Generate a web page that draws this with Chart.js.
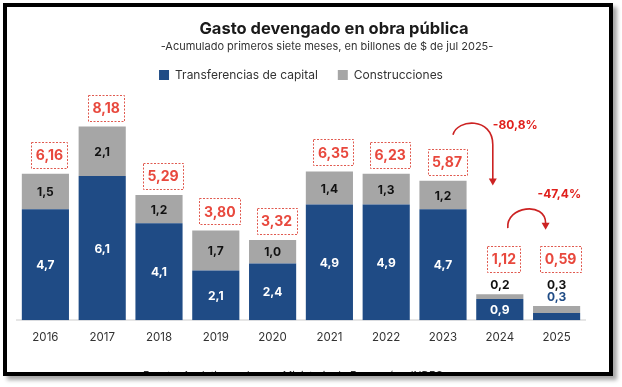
<!DOCTYPE html>
<html>
<head>
<meta charset="utf-8">
<title>Gasto devengado en obra pública</title>
<script src="https://cdn.jsdelivr.net/npm/chart.js@4.4.0/dist/chart.umd.min.js"></script>
<style>
    html, body { margin: 0; padding: 0; background: #fff; }
    .frame {
        position: absolute;
        left: 3px;
        top: 3px;
        width: 602px;
        height: 365px;
        border: 4px solid #000;
        box-shadow: 4px 4px 4px rgba(0, 0, 0, 0.35);
        background: #fff;
        overflow: hidden;
    }
    canvas { display: block; }
</style>
</head>
<body>
<div class="frame">
    <canvas id="obraChart" width="602" height="365"></canvas>
</div>
<script>
// Data (billones de $ de jul 2025, first seven months)
const years = ['2016', '2017', '2018', '2019', '2020', '2021', '2022', '2023', '2024', '2025'];
const transferencias = [4.7, 6.1, 4.1, 2.1, 2.4, 4.9, 4.9, 4.7, 0.9, 0.3];
const construcciones = [1.5, 2.1, 1.2, 1.7, 1.0, 1.4, 1.3, 1.2, 0.2, 0.3];
const totales = [6.16, 8.18, 5.29, 3.80, 3.32, 6.35, 6.23, 5.87, 1.12, 0.59];
const variacionDesde = [7, 8];
const variacionTexto = ['-80,8%', '-47,4%'];

const FONT = "Inter, 'Noto Sans', sans-serif";
const BLUE = '#1f4b85';
const GREY = '#a6a6a6';
const BOX_RED = '#e8483d';
const ARROW_RED = '#cc2222';

Chart.defaults.font.family = FONT;

function fmt(value, decimals) {
    return value.toFixed(decimals).replace('.', ',');
}

/**
 * Title, subtitle and (cut off) source line
 */
const headerPlugin = {
    id: 'header',
    afterDraw(chart) {
        const ctx = chart.ctx;
        ctx.save();
        ctx.textAlign = 'center';
        ctx.textBaseline = 'middle';
        ctx.fillStyle = '#1a1a1a';
        ctx.font = 'bold 16.5px ' + FONT;
        ctx.fillText('Gasto devengado en obra pública', 327, 22);
        ctx.fillStyle = '#333';
        ctx.font = '11px ' + FONT;
        ctx.fillText('-Acumulado primeros siete meses, en billones de $ de jul 2025-', 320, 40);
        ctx.textBaseline = 'alphabetic';
        ctx.font = '10.5px ' + FONT;
        ctx.fillText('Fuente: Analytica en base a Ministerio de Economía e INDEC', 286, 372);
        ctx.restore();
    }
};

/**
 * Segment values and dotted total boxes
 */
const barLabelsPlugin = {
    id: 'barLabels',
    afterDatasetsDraw(chart) {
        const ctx = chart.ctx;
        const blueBars = chart.getDatasetMeta(0).data;
        const greyBars = chart.getDatasetMeta(1).data;
        ctx.save();
        ctx.textAlign = 'center';
        ctx.textBaseline = 'middle';

        years.forEach((year, i) => {
            const segments = [
                { bar: blueBars[i], text: fmt(transferencias[i], 1), inColor: '#fff', outColor: BLUE },
                { bar: greyBars[i], text: fmt(construcciones[i], 1), inColor: '#111', outColor: '#111' }
            ];
            let top = greyBars[i].y;
            let outY = top - 9;

            ctx.font = 'bold 12px ' + FONT;
            segments.forEach(seg => {
                const h = seg.bar.base - seg.bar.y;
                if (h >= 14) {
                    ctx.fillStyle = seg.inColor;
                    ctx.fillText(seg.text, seg.bar.x, (seg.bar.y + seg.bar.base) / 2 + 1);
                } else {
                    ctx.fillStyle = seg.outColor;
                    ctx.fillText(seg.text, seg.bar.x, outY);
                    top = outY - 7;
                    outY -= 12;
                }
            });

            // total in dotted box
            ctx.font = 'bold 14px ' + FONT;
            const text = fmt(totales[i], 2);
            const w = Math.round(ctx.measureText(text).width + 9);
            const h = 26;
            const cx = greyBars[i].x + 4;
            const bottom = top - 6;
            ctx.setLineDash([2, 1.5]);
            ctx.strokeStyle = '#e05a50';
            ctx.lineWidth = 1;
            ctx.strokeRect(Math.round(cx - w / 2) + 0.5, Math.round(bottom - h) + 0.5, w, h);
            ctx.setLineDash([]);
            ctx.fillStyle = BOX_RED;
            ctx.fillText(text, cx, bottom - h / 2 + 1);
        });
        ctx.restore();
    }
};

/**
 * Curved arrows with the year-on-year change
 */
const arrowsPlugin = {
    id: 'arrows',
    afterDraw(chart) {
        const ctx = chart.ctx;
        const xs = chart.scales.x;
        const ys = chart.scales.y;
        // shape of each arrow (style only)
        const shapes = [
            { dx0: 10, dx1: -7, startVal: 7.85, tipVal: 5.7, c1: [4, -16], c2y: -18, endDy: 10, lab: [0, -9] },
            { dx0: 8, dx1: -11, startVal: 3.9, tipVal: 3.83, c1: [-2, -22], c2y: -27, endDy: -5, lab: [-8, -34] }
        ];
        ctx.save();
        variacionDesde.forEach((from, k) => {
            const s = shapes[k];
            const sx = xs.getPixelForValue(from) + s.dx0;
            const sy = ys.getPixelForValue(s.startVal);
            const ex = xs.getPixelForValue(from + 1) + s.dx1;
            const tipY = ys.getPixelForValue(s.tipVal);

            ctx.strokeStyle = ARROW_RED;
            ctx.fillStyle = ARROW_RED;
            ctx.lineWidth = 1.6;
            ctx.beginPath();
            ctx.moveTo(sx, sy);
            ctx.bezierCurveTo(sx + s.c1[0], sy + s.c1[1], ex, sy + s.c2y, ex, sy + s.endDy);
            ctx.lineTo(ex, tipY - 6);
            ctx.stroke();
            ctx.beginPath();
            ctx.moveTo(ex - 4, tipY - 7);
            ctx.lineTo(ex + 4, tipY - 7);
            ctx.lineTo(ex, tipY);
            ctx.closePath();
            ctx.fill();

            ctx.font = 'bold 12px ' + FONT;
            ctx.textAlign = 'left';
            ctx.textBaseline = 'middle';
            ctx.fillStyle = '#e0201c';
            ctx.fillText(variacionTexto[k], ex + s.lab[0], sy + s.lab[1]);
        });
        ctx.restore();
    }
};

/**
 * Fixed legend height so the plot area keeps its place
 */
const legendHeightPlugin = {
    id: 'legendHeight',
    beforeInit(chart) {
        const fit = chart.legend.fit;
        chart.legend.fit = function() {
            fit.bind(chart.legend)();
            this.height = 35;
        };
    }
};

const ctx = document.getElementById('obraChart');
new Chart(ctx, {
    type: 'bar',
    data: {
        labels: years,
        datasets: [
            {
                label: 'Transferencias de capital',
                data: transferencias,
                backgroundColor: BLUE,
                borderWidth: 0,
                barPercentage: 0.83,
                categoryPercentage: 1
            },
            {
                label: 'Construcciones',
                data: construcciones,
                backgroundColor: GREY,
                borderWidth: 0,
                barPercentage: 0.83,
                categoryPercentage: 1
            }
        ]
    },
    options: {
        responsive: false,
        animation: false,
        devicePixelRatio: 1,
        layout: {
            padding: { top: 42, left: 10, right: 24, bottom: 26 }
        },
        plugins: {
            legend: {
                position: 'top',
                labels: {
                    boxWidth: 10,
                    boxHeight: 10,
                    padding: 20,
                    color: '#333',
                    font: { size: 12 }
                }
            },
            tooltip: { enabled: false }
        },
        scales: {
            x: {
                stacked: true,
                grid: { display: false },
                border: { display: true, color: '#e6e6e6', width: 2 },
                ticks: {
                    color: '#333',
                    padding: 2,
                    font: { size: 11.5 }
                }
            },
            y: {
                stacked: true,
                display: false,
                min: 0,
                max: 10
            }
        }
    },
    plugins: [legendHeightPlugin, barLabelsPlugin, arrowsPlugin, headerPlugin]
});
</script>
</body>
</html>
